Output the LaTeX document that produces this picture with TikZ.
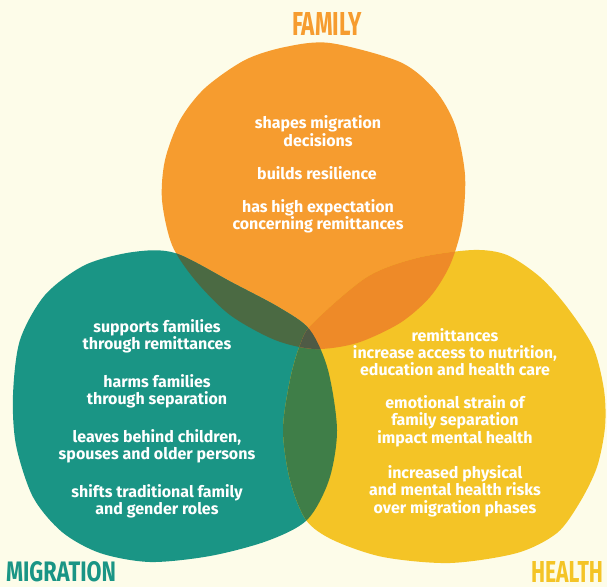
\documentclass[tikz,border=0pt]{standalone}
\usepackage{fontspec}
\setmainfont{Fira Sans}
\usepackage{graphicx}
\definecolor{BgCream}{HTML}{FDFCE9}
\definecolor{FamOrange}{HTML}{F69C2F}
\definecolor{MigTeal}{HTML}{1A9585}
\definecolor{HeaYellow}{HTML}{F4C426}
\definecolor{FamMig}{HTML}{4B6A43}
\definecolor{MigHea}{HTML}{3F7E48}
\definecolor{FamHea}{HTML}{EE8A28}
\definecolor{AllThree}{HTML}{4F5A45}

\def\familyblob{plot[smooth cycle] coordinates {(330,43) (400,62) (435,90) (455,125) (465,175) (462,225) (450,265) (430,297) (400,323) (357,343) (315,349) (275,340) (230,315) (195,280) (172,245) (162,200) (165,160) (180,120) (205,88) (245,60) (285,47)}}
\def\migrationblob{plot[smooth cycle] coordinates {(13,395) (20,340) (45,295) (85,265) (133,252) (175,253) (233,283) (280,308) (310,330) (328,370) (337,430) (329,480) (307,520) (267,541) (210,556) (150,562) (100,553) (62,532) (33,497) (16,445)}}
\def\healthblob{plot[smooth cycle] coordinates {(313,323) (367,277) (417,258) (473,250) (507,255) (540,277) (567,307) (593,347) (604,390) (605,427) (597,467) (580,502) (557,533) (517,553) (450,563) (383,557) (333,540) (306,520) (290,480) (283,430) (290,380) (300,345)}}

\tikzset{
  blobtext/.style={text=white, font=\bfseries\fontsize{16}{17.3}\selectfont, align=center, inner sep=0pt},
  heading/.style={inner sep=0pt, font=\bfseries},
}

\begin{document}
\begin{tikzpicture}[x=1pt,y=-1pt]
    \fill[BgCream] (0,0) rectangle (607,587);
    \useasboundingbox (0,0) rectangle (607,587);

    \fill[FamOrange] \familyblob;
    \fill[MigTeal] \migrationblob;
    \fill[HeaYellow] \healthblob;

    % overlaps
    \begin{scope}
      \clip \migrationblob;
      \fill[MigHea] \healthblob;
    \end{scope}
    \begin{scope}
      \clip \familyblob;
      \fill[FamMig] \migrationblob;
      \fill[FamHea] \healthblob;
      \clip \migrationblob;
      \fill[AllThree] \healthblob;
    \end{scope}

    \node[heading, text=FamOrange] (family) at (327,23.5) {\resizebox{70pt}{23pt}{FAMILY}};
    \node[heading, text=MigTeal] (migration) at (61,571.5) {\resizebox{110pt}{20pt}{MIGRATION}};
    \node[heading, text=HeaYellow] (health) at (567,571.5) {\resizebox{72pt}{21pt}{HEALTH}};

    \node[blobtext] (shapes) at (318,131) {shapes migration\\decisions};
    \node[blobtext] (builds) at (317,173) {builds resilience};
    \node[blobtext] (expects) at (318,216.5) {has high expectation\\concerning remittances};

    \node[blobtext] (supports) at (157,336.5) {supports families\\through remittances};
    \node[blobtext] (harms) at (157,391.5) {harms families\\through separation};
    \node[blobtext] (leaves) at (157,446.5) {leaves behind children,\\spouses and older persons};
    \node[blobtext] (shifts) at (157,501.5) {shifts traditional family\\and gender roles};

    \node[blobtext] (access) at (455,352) {remittances\\increase access to nutrition,\\education and health care};
    \node[blobtext] (strain) at (455,421) {emotional strain of\\family separation\\impact mental health};
    \node[blobtext] (risks) at (455,491) {increased physical\\and mental health risks\\over migration phases};
  \end{tikzpicture}
\end{document}
